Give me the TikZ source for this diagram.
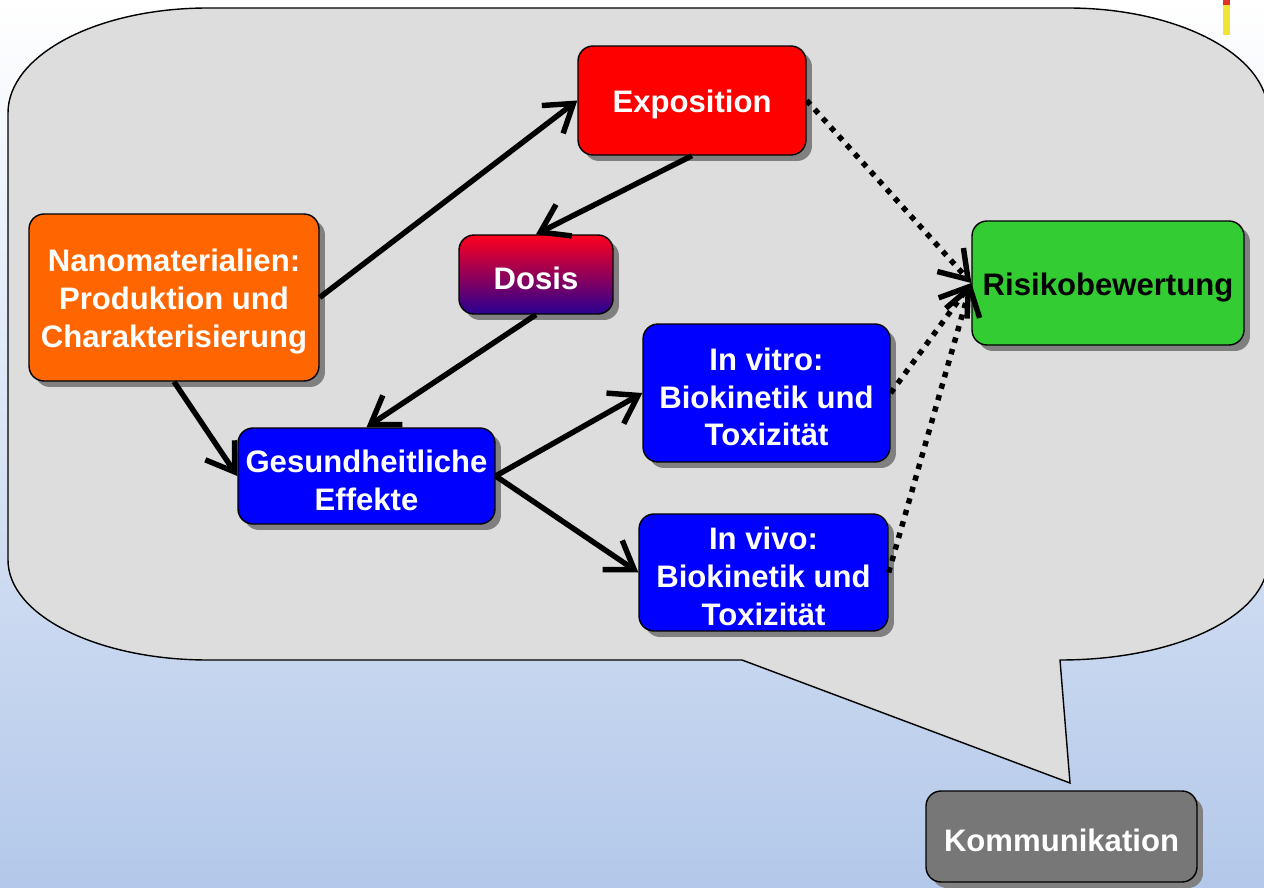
\documentclass[tikz,border=0pt]{standalone}
\usepackage{fontspec}
\setmainfont{Liberation Sans}
\usetikzlibrary{arrows.meta,shadows}
\definecolor{bgbottom}{RGB}{179,200,234}
\definecolor{bubblefill}{RGB}{221,221,221}
\definecolor{expofill}{RGB}{255,0,0}
\definecolor{nanofill}{RGB}{255,102,0}
\definecolor{bluefill}{RGB}{0,0,255}
\definecolor{riskfill}{RGB}{51,204,51}
\definecolor{commfill}{RGB}{119,119,119}
\definecolor{dosistop}{RGB}{255,0,30}
\definecolor{dosisbottom}{RGB}{40,0,145}
\definecolor{barred}{RGB}{226,50,40}
\definecolor{baryellow}{RGB}{242,227,55}
% strut that lowers box text slightly
\newcommand\boxlift{\rule{0pt}{17.5pt}}
\begin{document}
\begin{tikzpicture}[x=0.02cm,y=-0.02cm,
  box/.style={draw=black, line width=0.8pt, rounded corners=0.3cm, inner sep=0pt,
    align=center, text=white, font=\bfseries\fontsize{17.7}{21.5}\selectfont,
    drop shadow={shadow xshift=0.12cm, shadow yshift=-0.12cm, fill=black!50, opacity=1}},
  flow/.style={line width=3.1pt, -{Straight Barb[length=15pt,width=20pt]}},
  link/.style={line width=3.1pt, dash pattern=on 3.1pt off 3.7pt,
    -{Straight Barb[length=15pt,width=20pt]}}]
  \useasboundingbox (0,0) rectangle (1264,888);
  % background
  \fill[top color=white, bottom color=bgbottom] (0,0) rectangle (1264,888);
  % speech bubble
  \draw[fill=bubblefill, line width=0.8pt]
    (8,113) .. controls (8,55) and (97,8) .. (208,8)
    -- (1068,8) .. controls (1178,8) and (1268,55) .. (1268,113)
    -- (1268,560) .. controls (1268,615) and (1178,660) .. (1060,660)
    -- (1070,783) -- (742,660) -- (208,660)
    .. controls (97,660) and (8,615) .. (8,560) -- cycle;
  % corner mark
  \fill[barred] (1223,0) rectangle (1230,5);
  \fill[baryellow] (1223,5) rectangle (1230,35);
  % boxes
  \node[box, fill=expofill, minimum width=4.56cm, minimum height=2.18cm] (expo) at (692,100.5) {\boxlift Exposition};
  \node[box, top color=dosistop, bottom color=dosisbottom, minimum width=3.08cm, minimum height=1.58cm] (dosis) at (536,274.5) {\boxlift Dosis};
  \node[box, fill=nanofill, minimum width=5.8cm, minimum height=3.34cm] (nano) at (174,297.5) {\boxlift Nanomaterialien:\\Produktion und\\Charakterisierung};
  \node[box, fill=bluefill, minimum width=5.14cm, minimum height=1.92cm] (health) at (366.5,476) {\boxlift Gesundheitliche\\Effekte};
  \node[box, fill=bluefill, minimum width=4.94cm, minimum height=2.76cm] (vitro) at (766.5,393) {\boxlift In vitro:\\Biokinetik und\\Toxizität};
  \node[box, fill=bluefill, minimum width=4.98cm, minimum height=2.34cm] (vivo) at (763.5,572.5) {\boxlift In vivo:\\Biokinetik und\\Toxizität};
  \node[box, fill=riskfill, text=black, minimum width=5.44cm, minimum height=2.48cm] (risk) at (1108,283) {\boxlift Risikobewertung};
  \node[box, fill=commfill, minimum width=5.42cm, minimum height=1.82cm] (comm) at (1061.5,836.5) {\boxlift Kommunikation};
  % solid connectors
  \draw[flow] (nano.east) -- (expo.west);
  \draw[flow] (expo.south) -- (dosis.north);
  \draw[flow] (dosis.south) -- (health.north);
  \draw[flow] (nano.south) -- (health.west);
  \draw[flow] (health.east) -- (vitro.west);
  \draw[flow] (health.east) -- (vivo.west);
  % dotted connectors
  \draw[link] (expo.east) -- (risk.west);
  \draw[link] (vitro.east) -- (risk.west);
  \draw[link] (vivo.east) -- (risk.west);
\end{tikzpicture}
\end{document}
